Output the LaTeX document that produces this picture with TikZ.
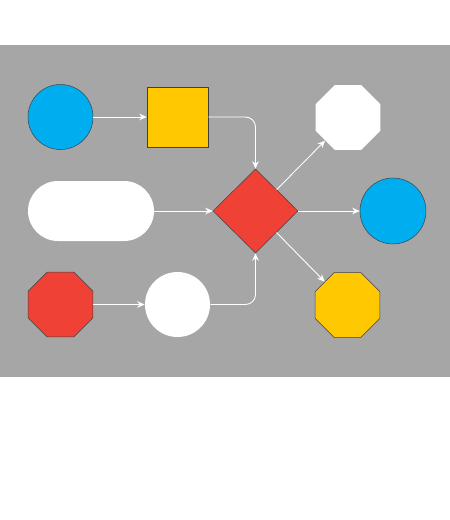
\documentclass[tikz,border=0pt]{standalone}
\usetikzlibrary{shapes.geometric,arrows.meta}
\definecolor{bg}{HTML}{A6A6A6}
\definecolor{cblue}{HTML}{00AEEF}
\definecolor{cyellow}{HTML}{FFC800}
\definecolor{cred}{HTML}{EF4136}
\begin{document}
\begin{tikzpicture}[x=1pt,y=-1pt,
  shp/.style={draw=black!75,line width=0.5pt,inner sep=0pt},
  circ/.style={shp,circle,minimum size=65pt},
  oct/.style={shp,regular polygon,regular polygon sides=8,minimum size=70pt},
  conn/.style={white,line width=0.9pt,-{Stealth[length=7.5pt,width=6.5pt]}}]
\useasboundingbox (0,0) rectangle (450,520);
\fill[bg] (0,45) rectangle (450,377);
\node[circ,fill=cblue] (c1) at (60.5,117) {};
\node[shp,rectangle,fill=cyellow,minimum width=61pt,minimum height=60pt] (sq) at (177.5,117) {};
\node[shp,rectangle,rounded corners=30pt,fill=white,draw=none,minimum width=126pt,minimum height=60pt] (pill) at (91,211) {};
\node[shp,diamond,fill=cred,minimum width=85pt,minimum height=84pt] (dia) at (255.5,211) {};
\node[oct,fill=cred] (o1) at (60.5,304.5) {};
\node[circ,fill=white,draw=none] (c2) at (177.5,304.5) {};
\node[oct,fill=white,draw=none] (o2) at (348,117.5) {};
\node[circ,fill=cblue,minimum size=66pt] (c3) at (393,211) {};
\node[oct,fill=cyellow] (o3) at (347.5,305) {};
\draw[conn] (c1) -- (sq);
\draw[conn,rounded corners=10pt] (sq.east) -- (dia.north |- sq.east) -- (dia.north);
\draw[conn] (pill) -- (dia);
\draw[conn] (o1) -- (c2);
\draw[conn,rounded corners=10pt] (c2.east) -- (dia.south |- c2.east) -- (dia.south);
\draw[conn] (dia) -- (o2);
\draw[conn] (dia) -- (c3);
\draw[conn] (dia) -- (o3);
\end{tikzpicture}
\end{document}
